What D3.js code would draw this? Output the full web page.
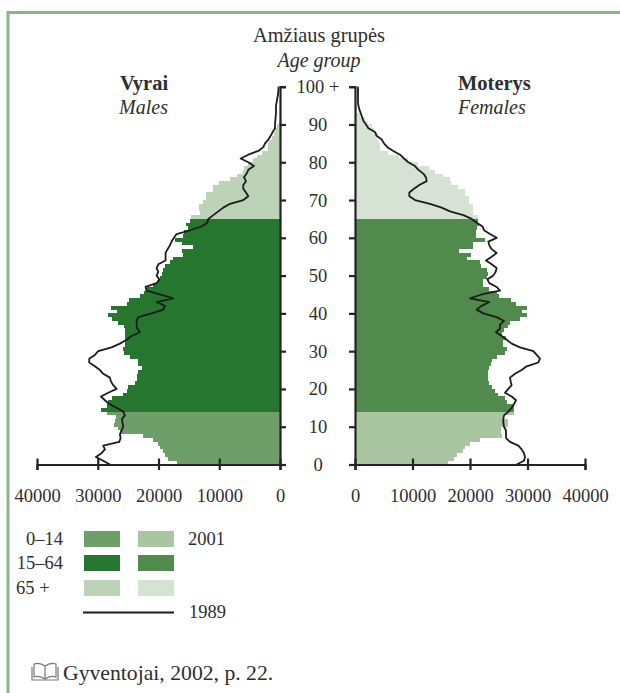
<!DOCTYPE html>
<html><head><meta charset="utf-8">
<script src="https://cdn.jsdelivr.net/npm/d3@7/dist/d3.min.js"></script>
<style>
html,body{margin:0;padding:0;background:#fff}
svg{display:block}
text{font-family:"Liberation Serif",serif;fill:#2e2e2e}
</style></head><body>
<svg id="c" width="620" height="693"></svg>
<script>
const maleBars=[17019,18392,18940,19215,19764,20039,20862,22619,26352,26627,27285,27176,27011,28548,29481,28438,28274,27615,25803,25254,24980,23882,23607,23497,23333,22784,23333,23333,24705,25693,25803,25529,25529,25529,25474,25474,25638,26627,27725,28274,26791,27889,25254,24815,23058,22344,21960,20862,20039,19764,19490,19215,18940,18117,17568,15921,16196,14384,16196,17294,15921,15811,15098,15482,14823,14713,13176,13286,13341,12627,12188,12188,10980,10980,9992,8235,7137,6039,5874,5216,4392,3733,3020,1922,1922,1757,1373,988,769,439,110];
const femaleBars=[16232,17217,17681,18840,19130,20000,21739,25507,25391,25391,26666,26666,25913,27652,27652,27652,26376,26087,24927,24347,23768,23362,23072,23072,23072,23304,23594,23768,24637,26087,26376,25797,25797,26260,25507,25913,26666,26956,28695,29970,28985,29970,28000,27072,25101,24637,23362,22203,22318,22898,23072,22898,21913,21739,19420,20116,18145,20463,20463,22608,21043,21043,21159,21623,21449,21449,20463,20463,20463,19768,19768,19130,19130,17971,16637,16521,15246,13913,12927,11014,9275,7710,5797,4348,4348,4232,3884,3884,3304,2899,2319,1739,870,406,290,116];
const maleLine=[27999,29097,30305,29372,28823,29097,26462,26242,26352,26078,25803,25913,26023,25529,25803,26901,28109,28823,29481,28274,26901,27450,27834,27999,29097,29646,30470,31403,31403,30470,29921,27725,26352,25254,24431,23058,23497,23607,23607,23333,21137,19215,18940,20313,17568,19764,21960,22125,20313,19874,20313,20039,20313,20039,18831,18831,18831,18501,18117,17843,17458,17019,14823,12902,11968,11804,10980,10157,9333,8235,6039,5216,5600,6039,6039,5600,5929,5490,5216,4282,5216,6478,5216,3569,2745,2471,1922,1537,1208,824,824,769,714,659,659,659,549,439,329,275,220];
const femaleLine=[28115,29391,29565,29391,28985,28405,26956,26260,26260,26260,25913,25797,25797,25913,26666,27246,27652,28000,27246,26087,26666,27246,27072,26956,27826,28985,29855,31884,32173,31594,31014,28695,27246,26376,25507,24521,25217,25217,25913,24637,22318,21159,22029,23362,20000,22029,25217,24637,23362,23014,24058,24463,24637,23768,22782,23768,24637,23768,23362,23188,24637,23478,22434,22203,21159,20290,18840,16521,15072,13043,10435,9449,9449,10261,11188,12464,12348,11884,11014,10435,9275,8522,7826,6667,5623,5043,4638,3768,3478,2319,1913,1449,1217,986,754,580,522,522,522,522,522];
const ageTicks=[0,10,20,30,40,50,60,70,80,90,100];
const ageLabels=["0","10","20","30","40","50","60","70","80","90","100 +"];
const popTicks=[0,10000,20000,30000,40000];
const groupNames=["0–14","15–64","65 +"];
const groupStarts=[0,14,65];
const maleColors=["#6e9f68","#26762f","#bdd3b8"];
const femaleColors=["#a9c5a2","#508a4c","#d6e2d3"];
const ink="#242424";

const svg=d3.select("#c");
// frame
svg.append("path").attr("d","M620,12.5H8V693").attr("fill","none").attr("stroke","#8ab587").attr("stroke-width",3);

const y=d3.scaleLinear().domain([0,100]).range([464.5,86.7]);
const xM=d3.scaleLinear().domain([0,40000]).range([280,37]);
const xF=d3.scaleLinear().domain([0,40000]).range([355,585]);
const col=(cols,a)=>cols[d3.bisectRight(groupStarts,a)-1];

function side(bars,line,x,cols){
  const g=svg.append("g");
  g.selectAll("rect").data(bars).join("rect")
    .attr("x",d=>Math.min(x(0),x(d)))
    .attr("width",d=>Math.abs(x(d)-x(0)))
    .attr("y",(d,i)=>y(i+1))
    .attr("height",(d,i)=>y(i)-y(i+1))
    .attr("fill",(d,i)=>col(cols,i))
    .attr("shape-rendering","crispEdges");
  const path=d3.line().x(d=>x(d)).y((d,i)=>y(i)).curve(d3.curveLinear);
  g.append("path").datum(line).attr("d",path).attr("fill","none")
    .attr("stroke","#1c1c1c").attr("stroke-width",1.8).attr("stroke-linejoin","round");
  // horizontal axis
  const ax=svg.append("g").attr("transform","translate(0,464.5)")
    .call(d3.axisBottom(x).tickValues(popTicks).tickFormat(d3.format("d")).tickSize(5.5).tickPadding(18.5));
  ax.select(".domain").attr("stroke",ink).attr("stroke-width",2.2);
  ax.selectAll(".tick line").attr("y1",-6).attr("stroke",ink).attr("stroke-width",2.2);
  ax.selectAll(".tick text").attr("font-size",18.5).attr("font-family","Liberation Serif").attr("fill","#2e2e2e");
}
side(maleBars,maleLine,xM,maleColors);
side(femaleBars,femaleLine,xF,femaleColors);

// vertical axes
const lAx=svg.append("g").attr("transform","translate(280,0)")
  .call(d3.axisRight(y).tickValues(ageTicks).tickSize(6).tickFormat(""));
const rAx=svg.append("g").attr("transform","translate(355,0)")
  .call(d3.axisLeft(y).tickValues(ageTicks).tickSize(6).tickFormat(""));
[lAx,rAx].forEach(a=>{
  a.select(".domain").attr("stroke",ink).attr("stroke-width",2.2);
  a.selectAll(".tick line").attr("stroke",ink).attr("stroke-width",2.2);
});
svg.append("g").selectAll("text").data(ageTicks).join("text")
  .attr("x",318).attr("y",d=>y(d)+6.5).attr("text-anchor","middle").attr("font-size",18.5)
  .text((d,i)=>ageLabels[i]);

// titles
const T=(x,yy,s,size,anchor,o={})=>svg.append("text").attr("x",x).attr("y",yy).attr("font-size",size)
  .attr("text-anchor",anchor).attr("font-style",o.i?"italic":"normal").attr("font-weight",o.b?"bold":"normal").text(s);
T(319,42,"Amžiaus grupės",20.4,"middle");
T(319,67,"Age group",20,"middle",{i:1});
T(144,90,"Vyrai",20.5,"middle",{b:1});
T(143.5,114,"Males",20,"middle",{i:1});
T(458,90,"Moterys",20.5,"start",{b:1});
T(458,114,"Females",20,"start",{i:1});

// legend
const legY=[531,555,580];
groupNames.forEach((n,i)=>{
  svg.append("rect").attr("x",84).attr("y",legY[i]).attr("width",36).attr("height",16).attr("fill",maleColors[i]);
  svg.append("rect").attr("x",138).attr("y",legY[i]).attr("width",36).attr("height",16).attr("fill",femaleColors[i]);
  if(i<2) T(63,legY[i]+14,n,18.5,"end"); else T(16,legY[i]+14,n,18.5,"start");
});
T(188,545,"2001",18.5,"start");
svg.append("line").attr("x1",83).attr("x2",174).attr("y1",612.5).attr("y2",612.5).attr("stroke","#1c1c1c").attr("stroke-width",1.8);
T(189,618,"1989",18.5,"start");

// source with book icon
const b=svg.append("g").attr("fill","none").attr("stroke","#777").attr("stroke-width",1.2);
b.append("path").attr("d","M45,666C41,663 37,663 34,664V677C37,676 41,676 45,679C49,676 53,676 56,677V664C53,663 49,663 45,666V679");
b.append("path").attr("d","M32,667V680H58V667");
T(63,680,"Gyventojai, 2002, p. 22.",21.7,"start");
</script>
</body></html>
